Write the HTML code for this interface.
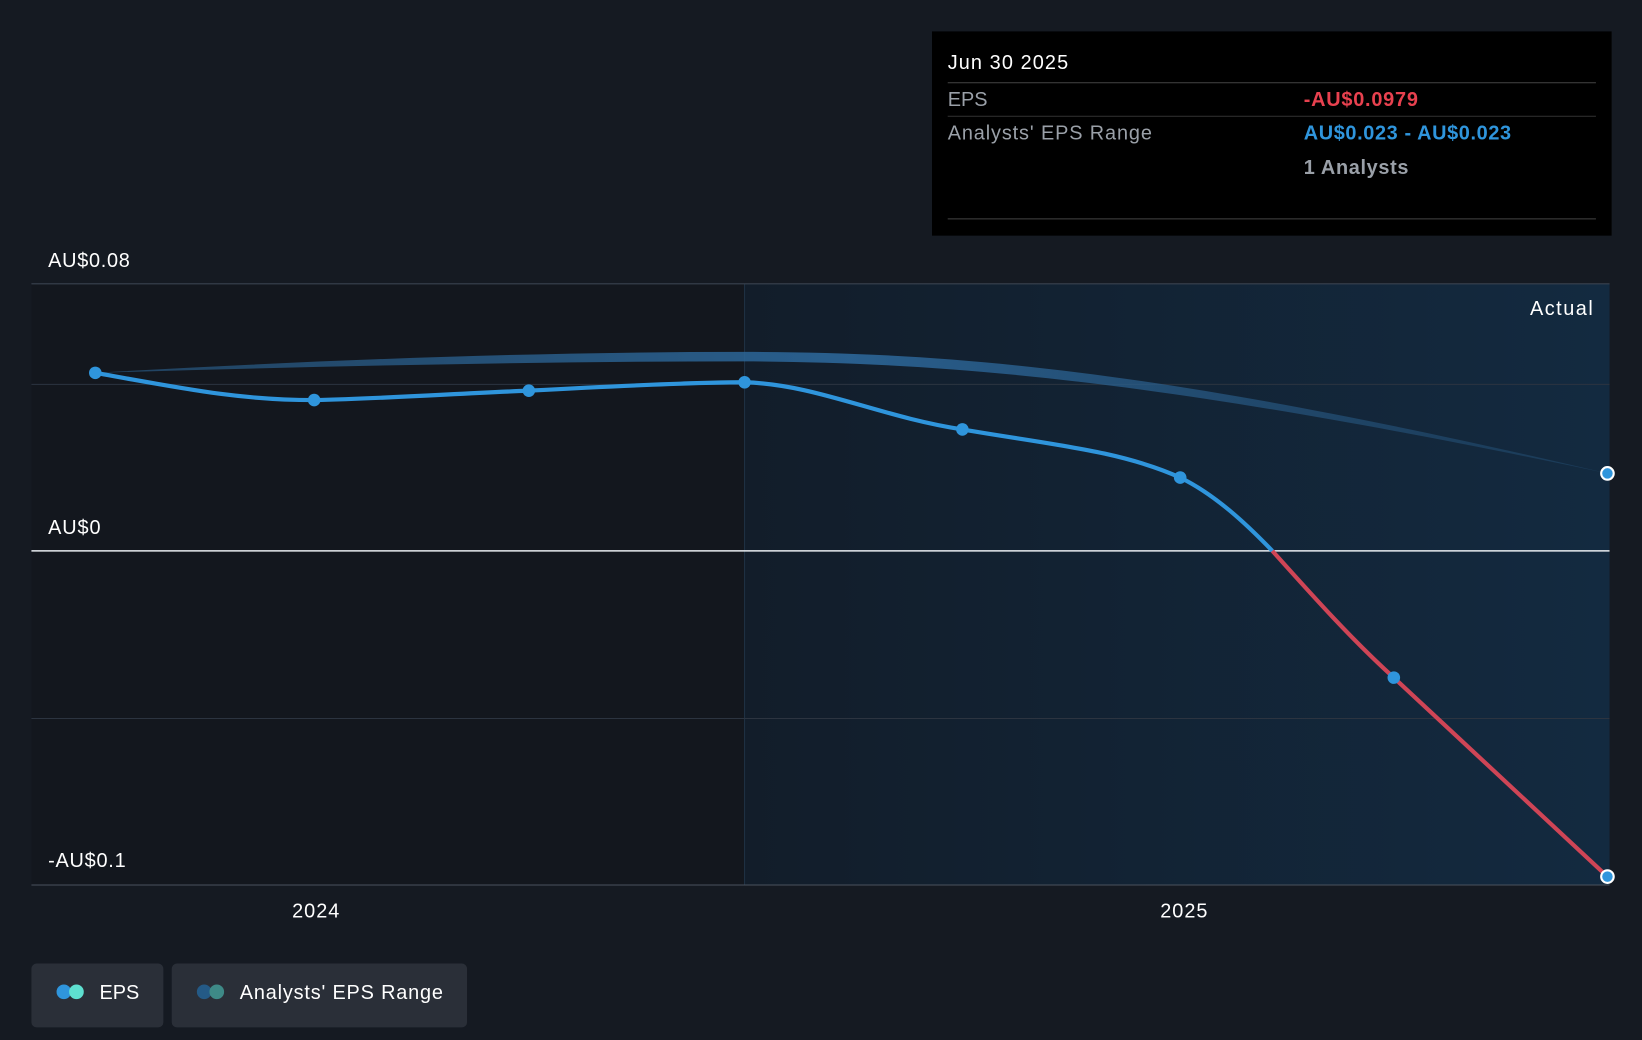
<!DOCTYPE html>
<html><head><meta charset="utf-8"><style>
html,body{margin:0;padding:0;background:#151a22;}
svg{display:block;font-family:"Liberation Sans",Roboto,sans-serif;}
</style></head><body>
<svg width="1642" height="1040" viewBox="0 0 1568 993" preserveAspectRatio="none" xmlns="http://www.w3.org/2000/svg">
<defs>
<linearGradient id="fg" x1="0" x2="1" y1="0" y2="0">
<stop offset="0" stop-color="#121d2a"/><stop offset="1" stop-color="#132a40"/>
</linearGradient>
<linearGradient id="band" x1="0" x2="1" y1="0" y2="0">
<stop offset="0" stop-color="#2a5f8c" stop-opacity="0.6"/><stop offset="0.5" stop-color="#2c6698" stop-opacity="0.9"/><stop offset="1" stop-color="#2a5f8c" stop-opacity="0.3"/>
</linearGradient>
</defs>
<rect width="1568" height="993" fill="#151a22"/>
<rect x="30" y="271" width="681" height="574" fill="#13171e"/>
<rect x="711" y="271" width="826" height="574" fill="url(#fg)"/>
<line x1="711" y1="271" x2="711" y2="845" stroke="#1f3244" stroke-width="1"/>
<g stroke="#2c3440" stroke-width="1">
<line x1="30" y1="271" x2="1537" y2="271" stroke="#3a4350"/>
<line x1="30" y1="367" x2="1537" y2="367"/>
<line x1="30" y1="686" x2="1537" y2="686"/>
<line x1="30" y1="845" x2="1537" y2="845" stroke="#4a525d"/>
</g>
<line x1="30" y1="526" x2="1537" y2="526" stroke="#e8ecf0" stroke-width="1.5"/>
<g fill="#fff" font-size="19">
<text x="46" y="255" textLength="78">AU$0.08</text>
<text x="46" y="510" textLength="50">AU$0</text>
<text x="46" y="828" textLength="74">-AU$0.1</text>
<text x="279" y="876" textLength="45">2024</text>
<text x="1108" y="876" textLength="45">2025</text>
<text x="1461" y="301" textLength="60">Actual</text>
</g>
<path d="M91,356 C300,344 505,336 711,336 C919,336 1127,356 1535,452 L1535,452 C1127,366 919,346 711,345 C505,345 300,350 91,356Z" fill="url(#band)"/>
<path d="M91,356 C180,372 230,382 300,382 C380,380 430,376 505,373 C580,369 660,365 711,365 C780,367 840,398 919,410 C1000,424 1070,430 1127,456 C1160,472 1190,500 1215,526" fill="none" stroke="#2f95dc" stroke-width="4"/>
<path d="M1215,526 C1250,565 1290,610 1331,647 L1535,837" fill="none" stroke="#cf4556" stroke-width="4"/>
<g fill="#2f95dc">
<circle cx="91" cy="356" r="6"/><circle cx="300" cy="382" r="6"/><circle cx="505" cy="373" r="6"/><circle cx="711" cy="365" r="6"/><circle cx="919" cy="410" r="6"/><circle cx="1127" cy="456" r="6"/><circle cx="1331" cy="647" r="6"/>
<circle cx="1535" cy="452" r="6" stroke="#fff" stroke-width="2"/><circle cx="1535" cy="837" r="6" stroke="#fff" stroke-width="2"/>
</g>
<rect x="890" y="30" width="649" height="195" fill="#000"/>
<g font-size="19">
<text x="905" y="66" fill="#fff" textLength="115">Jun 30 2025</text>
<line x1="905" y1="79" x2="1524" y2="79" stroke="#444"/>
<text x="905" y="101" fill="#9aa0a8" textLength="38">EPS</text>
<text x="1245" y="101" fill="#e8414f" font-weight="bold" textLength="109">-AU$0.0979</text>
<line x1="905" y1="111" x2="1524" y2="111" stroke="#333"/>
<text x="905" y="133" fill="#9aa0a8" textLength="195">Analysts' EPS Range</text>
<text x="1245" y="133" fill="#2f95dc" font-weight="bold" textLength="198">AU$0.023 - AU$0.023</text>
<text x="1245" y="166" fill="#9aa0a8" font-weight="bold" textLength="100">1 Analysts</text>
<line x1="905" y1="209" x2="1524" y2="209" stroke="#444"/>
</g>
<rect x="30" y="920" width="126" height="61" rx="5" fill="#2a2f38"/>
<circle cx="61" cy="947" r="7" fill="#2f95dc"/><circle cx="73" cy="947" r="7" fill="#5ee0d0"/>
<text x="95" y="954" fill="#fff" font-size="19" textLength="38">EPS</text>
<rect x="164" y="920" width="282" height="61" rx="5" fill="#2a2f38"/>
<circle cx="195" cy="947" r="7" fill="#245a86"/><circle cx="207" cy="947" r="7" fill="#3e8a87"/>
<text x="229" y="954" fill="#fff" font-size="19" textLength="194">Analysts' EPS Range</text>
</svg>
</body></html>
